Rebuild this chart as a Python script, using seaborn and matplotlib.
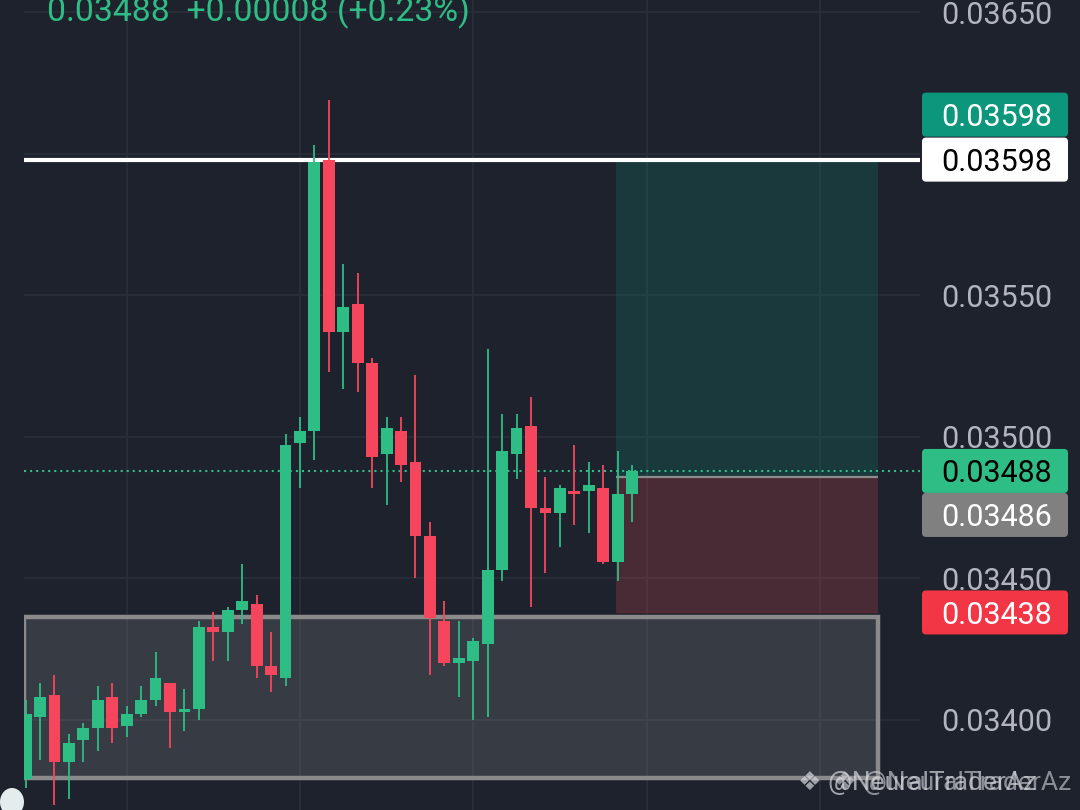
import numpy as np
import pandas as pd
import seaborn as sns
import matplotlib
matplotlib.use("Agg")
import matplotlib.pyplot as plt
from matplotlib.patches import Rectangle, FancyBboxPatch, Ellipse
from matplotlib.transforms import IdentityTransform
from matplotlib.ticker import FuncFormatter

# ---------------- data (prices) ----------------
opens = [0.03379, 0.03401, 0.03409, 0.03385, 0.03393, 0.03397, 0.03408, 0.03398, 0.03402, 0.03407,
         0.03413, 0.03403, 0.03404, 0.03433, 0.03431, 0.03439, 0.03441, 0.03419, 0.03415, 0.03498,
         0.03502, 0.03598, 0.03537, 0.03547, 0.03526, 0.03494, 0.03502, 0.03491, 0.03465, 0.03435,
         0.03420, 0.03421, 0.03427, 0.03453, 0.03494, 0.03504, 0.03475, 0.03473, 0.03481, 0.03481,
         0.03482, 0.03456, 0.03480]
highs = [0.03407, 0.03413, 0.03416, 0.03395, 0.03399, 0.03412, 0.03413, 0.03405, 0.03412, 0.03424,
         0.03413, 0.03411, 0.03435, 0.03438, 0.03440, 0.03455, 0.03444, 0.03431, 0.03501, 0.03507,
         0.03603, 0.03619, 0.03561, 0.03558, 0.03528, 0.03507, 0.03507, 0.03522, 0.03470, 0.03442,
         0.03435, 0.03429, 0.03531, 0.03508, 0.03508, 0.03514, 0.03486, 0.03483, 0.03497, 0.03491,
         0.03490, 0.03495, 0.03490]
lows = [0.03376, 0.03386, 0.03370, 0.03372, 0.03385, 0.03389, 0.03392, 0.03394, 0.03401, 0.03405,
        0.03390, 0.03396, 0.03400, 0.03421, 0.03421, 0.03434, 0.03415, 0.03410, 0.03412, 0.03482,
        0.03492, 0.03523, 0.03517, 0.03516, 0.03482, 0.03476, 0.03484, 0.03450, 0.03416, 0.03419,
        0.03408, 0.03400, 0.03401, 0.03449, 0.03485, 0.03440, 0.03452, 0.03461, 0.03469, 0.03466,
        0.03455, 0.03449, 0.03470]
closes = [0.03402, 0.03408, 0.03385, 0.03392, 0.03397, 0.03407, 0.03397, 0.03402, 0.03407, 0.03415,
          0.03403, 0.03404, 0.03433, 0.03431, 0.03439, 0.03442, 0.03419, 0.03416, 0.03497, 0.03502,
          0.03597, 0.03537, 0.03546, 0.03526, 0.03493, 0.03503, 0.03490, 0.03465, 0.03436, 0.03420,
          0.03422, 0.03428, 0.03453, 0.03495, 0.03503, 0.03475, 0.03473, 0.03482, 0.03480, 0.03483,
          0.03456, 0.03480, 0.03488]

last_price = 0.03488
entry_price = 0.03486
take_profit = 0.03598
stop_loss = 0.03438
zone_top = 0.034364
zone_bottom = 0.033795
y_ticks = [0.03400, 0.03450, 0.03500, 0.03550, 0.03600, 0.03650]
hidden_tick = 0.03600          # covered by the price tags in the reference
x_grid = [7, 19, 31, 43, 55]
header = "0.03488  +0.00008 (+0.23%)"
watermark = "\u2756 @NeuralTraderAz"

# ---------------- style ----------------
BG = "#1e222d"
GRID = "#2a2e39"
UP = "#2ebd85"
DOWN = "#f6465d"
LABEL = "#b2b5be"

sns.set_theme(style="dark", rc={"axes.facecolor": BG, "figure.facecolor": BG})
plt.rcParams["font.family"] = ["Roboto", "DejaVu Sans"]

W, H = 1080, 810
fig = plt.figure(figsize=(W / 100, H / 100), dpi=100)
ax = fig.add_axes([24 / W, 0, (920 - 24) / W, 1])
ax.set_facecolor(BG)

df = pd.DataFrame({"open": opens, "high": highs, "low": lows, "close": closes})
df["x"] = np.arange(len(df))
df["up"] = df["close"] >= df["open"]
df["color"] = np.where(df["up"], UP, DOWN)
df["bottom"] = df[["open", "close"]].min(axis=1)
df["height"] = (df["close"] - df["open"]).abs().clip(lower=0.0000035)

xmin, xmax = -0.111, 61.94
ymin, ymax = 0.033682, 0.036544
ax.set_xlim(xmin, xmax)
ax.set_ylim(ymin, ymax)

# grid
ax.set_axisbelow(True)
ax.set_xticks(x_grid)
ax.set_yticks(y_ticks)
ax.grid(True, color=GRID, lw=1.3)
for s in ax.spines.values():
    s.set_visible(False)
ax.tick_params(axis="x", length=0, labelbottom=False)
ax.yaxis.tick_right()
ax.tick_params(axis="y", length=0, pad=15, labelsize=22, labelcolor=LABEL)
ax.yaxis.set_major_formatter(
    FuncFormatter(lambda v, p: "" if abs(v - hidden_tick) < 1e-7 else f"{v:.5f}"))

# zone (grey box)
zone_x0, zone_x1 = -0.11, 59.03
ax.add_patch(Rectangle((zone_x0, zone_bottom), zone_x1 - zone_x0, zone_top - zone_bottom,
                       facecolor="white", alpha=0.115, edgecolor="none", zorder=1))
ax.add_patch(Rectangle((zone_x0, zone_bottom), zone_x1 - zone_x0, zone_top - zone_bottom,
                       facecolor="none", edgecolor="#8a8a8a", lw=3.2, zorder=1.5))

# position boxes
pos_x0, pos_x1 = 40.89, 59.03
ax.add_patch(Rectangle((pos_x0, entry_price), pos_x1 - pos_x0, take_profit - entry_price,
                       facecolor="#089981", alpha=0.2, edgecolor="none", zorder=1))
ax.add_patch(Rectangle((pos_x0, stop_loss), pos_x1 - pos_x0, entry_price - stop_loss,
                       facecolor="#f7525f", alpha=0.2, edgecolor="none", zorder=1))
ax.hlines(entry_price, pos_x0, pos_x1, color="#8c8c8c", lw=1.6, zorder=1.6)
ax.hlines(stop_loss, pos_x0, pos_x1, color="#5a2a33", lw=1.0, zorder=1.6)

# white horizontal line
ax.hlines(take_profit, zone_x0, xmax, color="white", lw=3.0, zorder=2)

# last price dotted line
ax.hlines(last_price, xmin, xmax, color=UP, lw=1.5, linestyles=(0, (1, 1.9)), zorder=2)

# candles
ax.vlines(df["x"], df["low"], df["high"], colors=df["color"], lw=1.3, zorder=3)
ax.bar(df["x"], df["height"], bottom=df["bottom"], width=0.82, color=df["color"],
       linewidth=0, zorder=4)

# ---------------- right price labels ----------------
def ypx(p):
    return (p - ymin) / (ymax - ymin) * H

box_x0, box_w, box_h = 922, 146, 44
labels = []
c_white = ypx(take_profit)
labels.append((c_white + 45, "#0c977c", "white", f"{take_profit:.5f}"))
labels.append((c_white, "white", "black", f"{take_profit:.5f}"))
c_last = ypx(last_price)
labels.append((c_last, UP, "black", f"{last_price:.5f}"))
labels.append((c_last - 44, "#808080", "white", f"{entry_price:.5f}"))
labels.append((ypx(stop_loss), "#f23645", "white", f"{stop_loss:.5f}"))

for cy, fc, tc, txt in labels:
    patch = FancyBboxPatch((box_x0, cy - box_h / 2), box_w, box_h,
                           boxstyle="round,pad=0,rounding_size=4",
                           facecolor=fc, edgecolor="none", transform=IdentityTransform(),
                           zorder=5)
    fig.add_artist(patch)
    fig.text(941, cy, txt, transform=IdentityTransform(), color=tc, fontsize=22,
             ha="left", va="center_baseline", zorder=6)

# header
fig.text(47, H - 21, header, transform=IdentityTransform(), color=UP, fontsize=24.3,
         ha="left", va="baseline", zorder=6)

# watermark (two overlapping copies, as in the screenshot)
for dx, a in [(798, 0.7), (833, 0.6)]:
    fig.text(dx, H - 783, watermark, transform=IdentityTransform(), color="#d5d8dc",
             alpha=a, fontsize=19, ha="left", va="center", zorder=6)

# little circle bottom-left
fig.add_artist(Ellipse((12, 8), 24, 28, transform=IdentityTransform(),
                       facecolor="#e4ecee", edgecolor="none", zorder=6))

fig.savefig("out.png", dpi=100, facecolor=BG)
